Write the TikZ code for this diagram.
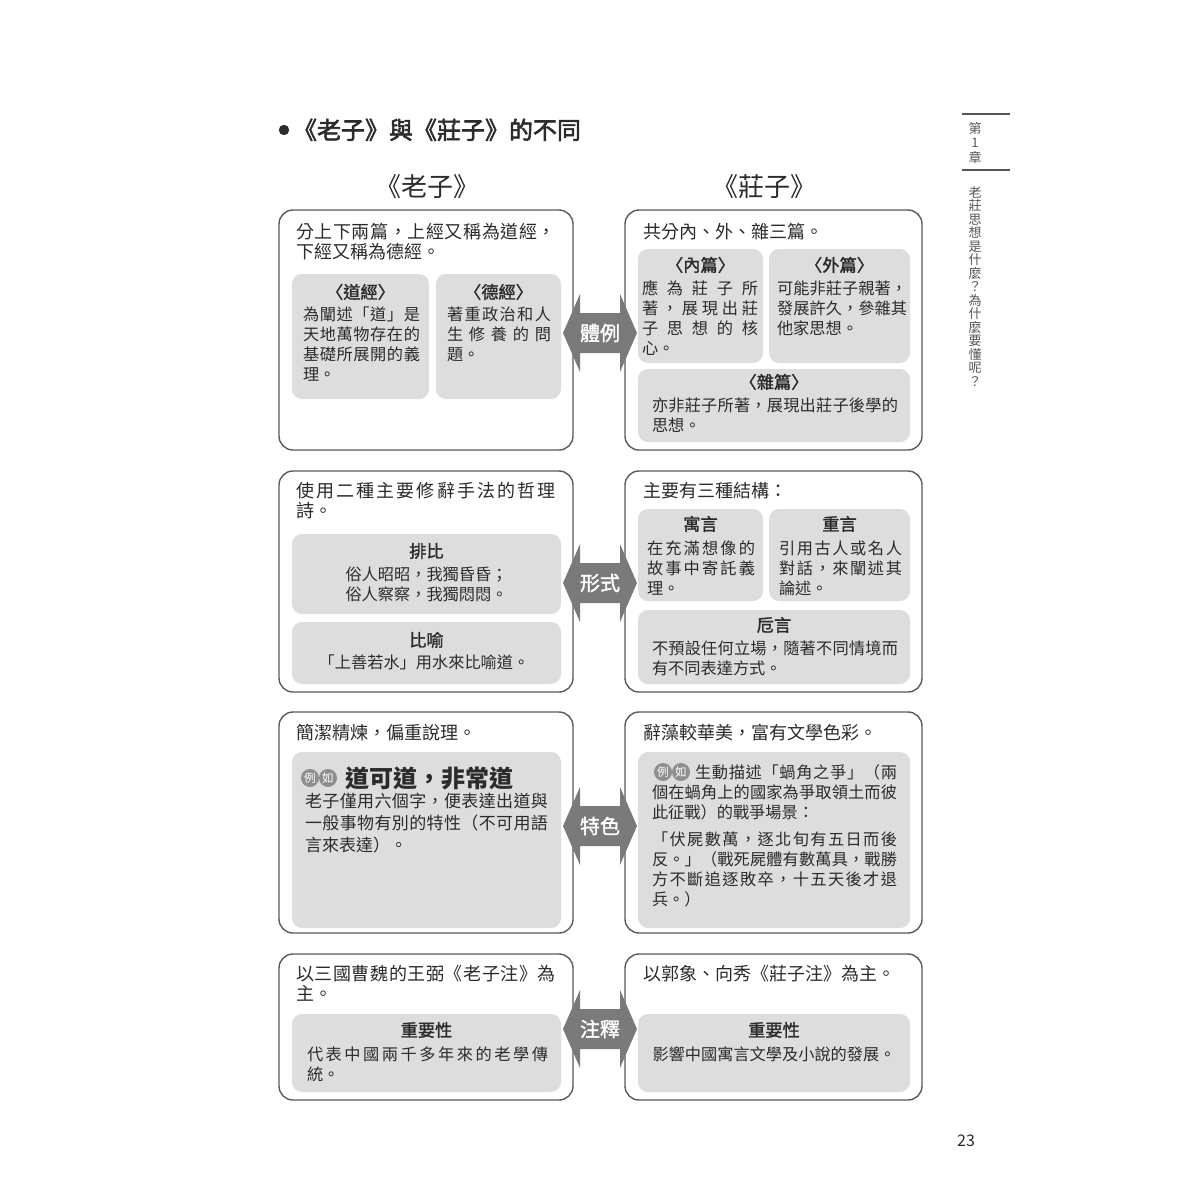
\documentclass[tikz,border=0pt]{standalone}
\usepackage{fontspec}
\setmainfont{Noto Sans CJK TC}
\newfontfamily\semib[FakeBold=1.6]{Noto Sans CJK TC}
\newfontfamily\titlef[FakeBold=2.4]{Noto Sans CJK TC}
\definecolor{txtc}{HTML}{2B2B2B}
\definecolor{bordc}{HTML}{5A5A5A}
\definecolor{boxc}{HTML}{DDDDDD}
\definecolor{arrc}{HTML}{7A7A7A}
\definecolor{badgec}{HTML}{8E8E8E}
\definecolor{sidec}{HTML}{555555}
\makeatletter
\newcommand\jst[1]{\leavevmode\hbox to\hsize{\@tfor\jt@c:=#1\do{\jt@c\hfil}\unskip}}
\makeatother
\newcommand\fs[2]{\fontsize{#1pt}{#2pt}\selectfont}
\newcommand\gbox[6]{%
  \pgfmathsetmacro\bw{(#5-#3)*0.5}\pgfmathsetmacro\bh{(#6-#4)*0.5}%
  \node[#1, minimum width=\bw pt, minimum height=\bh pt, anchor=north west] (#2) at (#3,#4) {};}
\newcommand\dblarrow[4]{%
  \fill[arrc] (#2-37,#3) -- (#2-20,#3-39) -- (#2-20,#3-20) -- (#2+20,#3-20) -- (#2+20,#3-39)
    -- (#2+37,#3) -- (#2+20,#3+39) -- (#2+20,#3+20) -- (#2-20,#3+20) -- (#2-20,#3+39) -- cycle;
  \node[arrlbl] (#1) at (#2,#3) {#4};}
\newcommand\badge[3]{%
  \node[badgestyle] (#1a) at (#2,#3) {例};
  \node[badgestyle] (#1b) at (#2+18,#3) {如};}
\begin{document}
\begin{tikzpicture}[x=0.5pt,y=-0.5pt,
  txt/.style={inner sep=0pt, outer sep=0pt, text=txtc, anchor=base west, align=left},
  ctr/.style={inner sep=0pt, outer sep=0pt, text=txtc, anchor=base, align=center},
  hdr/.style={txt, font=\fs{9}{10.25}},
  body/.style={txt, font=\fs{8.1}{10.15}},
  ttl/.style={ctr, font=\semib\fs{8.6}{10}},
  outer/.style={draw=bordc, line width=0.7pt, rounded corners=7pt, inner sep=0pt, outer sep=0pt},
  inner/.style={fill=boxc, rounded corners=5pt, inner sep=0pt, outer sep=0pt},
  arrlbl/.style={text=white, font=\semib\fs{10}{10}, inner sep=0pt},
  badgestyle/.style={circle, fill=badgec, minimum size=9pt, inner sep=0pt, text=white, font=\fs{5.8}{6}}
]
\fill[white] (0,0) rectangle (1200,1200);
\useasboundingbox (0,0) rectangle (1200,1200);

% title
\fill[txtc] (284,130) circle[radius=2.6pt];
\node[txt, font=\titlef\fs{12}{12}] (title) at (293,139) {《老子》與《莊子》的不同};
\node[ctr, font=\fs{13}{13}] (colL) at (427,196) {《老子》};
\node[ctr, font=\fs{13}{13}] (colR) at (764,196) {《莊子》};

% sidebar
\draw[sidec, line width=0.6pt] (962,114) -- (1010,114);
\draw[sidec, line width=0.6pt] (962,170) -- (1010,170);
\node[ctr, text=sidec, font=\fs{6.5}{7.25}, text width=8pt] (chap) at (975,133) {第\\1\\章};
\node[ctr, text=sidec, font=\fs{6.5}{6.75}, text width=8pt] (side) at (975,197) {老\\莊\\思\\想\\是\\什\\麼\\？\\為\\什\\麼\\要\\懂\\呢\\？};
\node[ctr, font=\fs{8}{8}] (pg) at (966,1146) {23};

% ---------- Row 1 ----------
\gbox{outer}{L1}{279}{210}{573}{450}
\node[hdr, text width=130pt] (L1h) at (296,238) {\jst{分上下兩篇，上經又稱為道經，}\\下經又稱為德經。};
\gbox{inner}{L1a}{292}{274}{429}{399}
\gbox{inner}{L1b}{436}{274}{561}{399}
\node[ttl] (L1at) at (360.5,298.5) {〈道經〉};
\node[body, text width=58.5pt] (L1ab) at (303,320) {\jst{為闡述「道」是}\\\jst{天地萬物存在的}\\\jst{基礎所展開的義}\\理。};
\node[ttl] (L1bt) at (498.5,298.5) {〈德經〉};
\node[body, text width=52pt] (L1bb) at (447,320) {\jst{著重政治和人}\\\jst{生修養的問}\\題。};

\gbox{outer}{R1}{625}{210}{922}{450}
\node[hdr] (R1h) at (643,238) {共分內、外、雜三篇。};
\gbox{inner}{R1a}{638}{249}{763}{363}
\gbox{inner}{R1b}{769}{249}{910}{363}
\gbox{inner}{R1c}{638}{369}{910}{442}
\node[ttl] (R1at) at (700.5,271.5) {〈內篇〉};
\node[body, text width=58pt] (R1ab) at (642,294) {\jst{應為莊子所}\\\jst{著，展現出莊}\\\jst{子思想的核}\\心。};
\node[ttl] (R1bt) at (839.5,271.5) {〈外篇〉};
\node[body, text width=65pt] (R1bb) at (777,294) {\jst{可能非莊子親著，}\\\jst{發展許久，參雜其}\\他家思想。};
\node[ttl] (R1ct) at (774,388.5) {〈雜篇〉};
\node[body, text width=123pt] (R1cb) at (652,411) {\jst{亦非莊子所著，展現出莊子後學的}\\思想。};

\dblarrow{A1}{600}{333}{體例}

% ---------- Row 2 ----------
\gbox{outer}{L2}{279}{471}{573}{692}
\node[hdr, text width=130pt] (L2h) at (296,497) {\jst{使用二種主要修辭手法的哲理}\\詩。};
\gbox{inner}{L2a}{292}{534}{561}{614}
\node[ttl] (L2at) at (426.5,557.5) {排比};
\node[ctr, text width=134pt, font=\fs{8.1}{10}] (L2ab) at (426.5,580) {俗人昭昭，我獨昏昏；\\俗人察察，我獨悶悶。};
\gbox{inner}{L2b}{292}{622}{561}{684}
\node[ttl] (L2bt) at (426.5,646.5) {比喻};
\node[ctr, text width=134pt, font=\fs{8.1}{10}] (L2bb) at (424,668) {「上善若水」用水來比喻道。};

\gbox{outer}{R2}{625}{471}{922}{692}
\node[hdr] (R2h) at (643,497) {主要有三種結構：};
\gbox{inner}{R2a}{638}{509}{763}{601}
\gbox{inner}{R2b}{769}{509}{910}{601}
\gbox{inner}{R2c}{638}{610}{910}{684}
\node[ttl] (R2at) at (700.5,530.5) {寓言};
\node[body, text width=54pt] (R2ab) at (647,554) {\jst{在充滿想像的}\\\jst{故事中寄託義}\\理。};
\node[ttl] (R2bt) at (839.5,530.5) {重言};
\node[body, text width=61.5pt] (R2bb) at (779,554) {\jst{引用古人或名人}\\\jst{對話，來闡述其}\\論述。};
\node[ttl] (R2ct) at (774,631.5) {卮言};
\node[body, text width=123pt] (R2cb) at (652,654) {\jst{不預設任何立場，隨著不同情境而}\\有不同表達方式。};

\dblarrow{A2}{600}{583}{形式}

% ---------- Row 3 ----------
\gbox{outer}{L3}{279}{712}{573}{933}
\node[hdr] (L3h) at (296,739) {簡潔精煉，偏重說理。};
\gbox{inner}{L3a}{292}{752}{561}{928}
\badge{bL}{310}{778}
\node[txt, font=\bfseries\fs{12}{12}] (L3big) at (345,787) {道可道，非常道};
\node[body, font=\fs{8.5}{11}, text width=121.5pt] (L3ab) at (305,807.5) {\jst{老子僅用六個字，便表達出道與}\\\jst{一般事物有別的特性（不可用語}\\言來表達）。};

\gbox{outer}{R3}{625}{712}{922}{933}
\node[hdr] (R3h) at (643,739) {辭藻較華美，富有文學色彩。};
\gbox{inner}{R3a}{638}{752}{910}{928}
\badge{bR}{663}{772}
\node[body, text width=101pt] (R3l1) at (695,778) {\jst{生動描述「蝸角之爭」（兩}};
\node[body, text width=122.5pt] (R3l2) at (652,798) {\jst{個在蝸角上的國家為爭取領土而彼}\\此征戰）的戰爭場景：};
\node[body, text width=122.5pt] (R3l3) at (652,845) {\jst{「伏屍數萬，逐北旬有五日而後}\\\jst{反。」（戰死屍體有數萬具，戰勝}\\\jst{方不斷追逐敗卒，十五天後才退}\\兵。）};

\dblarrow{A3}{600}{826}{特色}

% ---------- Row 4 ----------
\gbox{outer}{L4}{279}{954}{573}{1100}
\node[hdr, text width=130pt] (L4h) at (296,980) {\jst{以三國曹魏的王弼《老子注》為}\\主。};
\gbox{inner}{L4a}{292}{1014}{561}{1092}
\node[ttl] (L4at) at (426.5,1036.5) {重要性};
\node[body, text width=120.5pt] (L4ab) at (307,1060) {\jst{代表中國兩千多年來的老學傳}\\統。};

\gbox{outer}{R4}{625}{954}{922}{1100}
\node[hdr] (R4h) at (643,980) {以郭象、向秀《莊子注》為主。};
\gbox{inner}{R4a}{638}{1014}{910}{1092}
\node[ttl] (R4at) at (774,1036.5) {重要性};
\node[ctr, text width=136pt, font=\fs{8.1}{10}] (R4ab) at (774,1060) {影響中國寓言文學及小說的發展。};

\dblarrow{A4}{600}{1029}{注釋}
\end{tikzpicture}
\end{document}
